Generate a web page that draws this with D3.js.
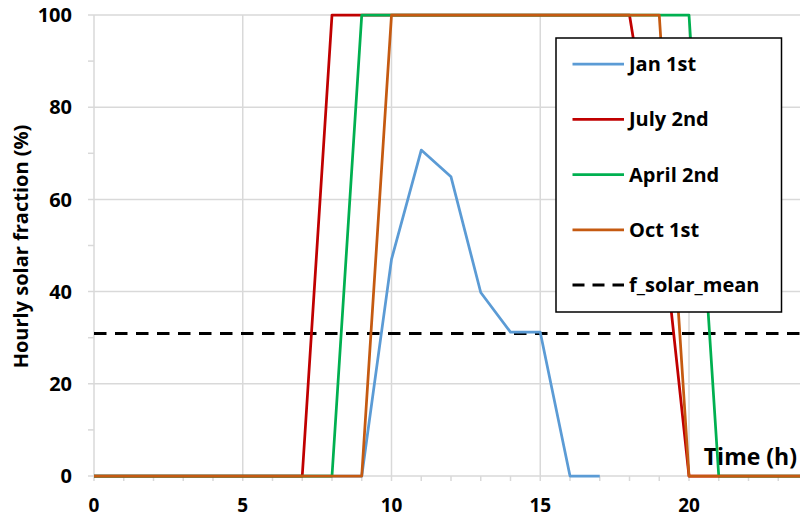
<!DOCTYPE html>
<html>
<head>
<meta charset="utf-8">
<script src="https://cdn.jsdelivr.net/npm/d3@7"></script>
<style>
  body { margin: 0; background: #fff; }
  svg { display: block; font-family: "Open Sans", sans-serif; font-weight: 700; }
</style>
</head>
<body>
<script>
// hours of the day
const hours = d3.range(0, 25);

// hourly solar fraction (%)
const jan1 = [0, 0, 0, 0, 0, 0, 0, 0, 0, 0, 47, 70.7, 64.9, 39.8, 31.2, 31.2, 0, 0];
const july2 = [0, 0, 0, 0, 0, 0, 0, 0, 100, 100, 100, 100, 100, 100, 100, 100, 100, 100, 100, 60, 0, 0, 0, 0, 0];
const april2 = [0, 0, 0, 0, 0, 0, 0, 0, 0, 100, 100, 100, 100, 100, 100, 100, 100, 100, 100, 100, 100, 0, 0, 0, 0];
const oct1 = [0, 0, 0, 0, 0, 0, 0, 0, 0, 0, 100, 100, 100, 100, 100, 100, 100, 100, 100, 100, 0, 0, 0, 0, 0];
const fSolarMean = 30.9;

const seriesNames = ['Jan 1st', 'July 2nd', 'April 2nd', 'Oct 1st'];
const seriesColors = ['#5b9bd5', '#c00000', '#00b050', '#c55a11'];
const seriesValues = [jan1, july2, april2, oct1];

const xTicks = [0, 5, 10, 15, 20];
const yTicks = [0, 20, 40, 60, 80, 100];

const width = 800, height = 517;
const margin = { top: 15, right: -8, bottom: 41, left: 94 };

const svg = d3.select('body').append('svg')
  .attr('width', width)
  .attr('height', height);

const x = d3.scaleLinear().domain([0, 24]).range([margin.left, width - margin.right]);
const y = d3.scaleLinear().domain([0, 100]).range([height - margin.bottom, margin.top]);

// gridlines
svg.append('g')
  .selectAll('line.hgrid')
  .data(yTicks)
  .join('line')
  .attr('x1', margin.left - 6)
  .attr('x2', width)
  .attr('y1', d => y(d))
  .attr('y2', d => y(d))
  .attr('stroke', '#d9d9d9')
  .attr('stroke-width', 1.5);

svg.append('g')
  .selectAll('line.vgrid')
  .data(xTicks)
  .join('line')
  .attr('x1', d => x(d))
  .attr('x2', d => x(d))
  .attr('y1', y(0))
  .attr('y2', y(100))
  .attr('stroke', '#d9d9d9')
  .attr('stroke-width', 1.5);

// minor ticks
svg.append('g')
  .selectAll('line')
  .data(d3.range(10, 100, 20))
  .join('line')
  .attr('x1', margin.left - 6)
  .attr('x2', margin.left)
  .attr('y1', d => y(d))
  .attr('y2', d => y(d))
  .attr('stroke', '#d9d9d9')
  .attr('stroke-width', 1.5);

svg.append('g')
  .selectAll('line')
  .data(hours)
  .join('line')
  .attr('x1', d => x(d))
  .attr('x2', d => x(d))
  .attr('y1', y(0))
  .attr('y2', y(0) + 5)
  .attr('stroke', '#d9d9d9')
  .attr('stroke-width', 1.5);

// tick labels
svg.append('g')
  .selectAll('text')
  .data(yTicks)
  .join('text')
  .attr('x', margin.left - 22)
  .attr('y', d => y(d))
  .attr('dy', '0.36em')
  .attr('text-anchor', 'end')
  .attr('font-size', 20)
  .text(d => d);

svg.append('g')
  .selectAll('text')
  .data(xTicks)
  .join('text')
  .attr('x', d => x(d))
  .attr('y', 512)
  .attr('text-anchor', 'middle')
  .attr('font-size', 19)
  .text(d => d);

// axis titles
svg.append('text')
  .attr('transform', `translate(28, ${(y(0) + y(100)) / 2 + 1}) rotate(-90)`)
  .attr('text-anchor', 'middle')
  .attr('font-size', 20)
  .text('Hourly solar fraction (%)');

svg.append('text')
  .attr('x', 797)
  .attr('y', 465)
  .attr('text-anchor', 'end')
  .attr('font-size', 23)
  .text('Time (h)');

// mean line
svg.append('line')
  .attr('x1', x(0))
  .attr('x2', width)
  .attr('y1', y(fSolarMean))
  .attr('y2', y(fSolarMean))
  .attr('stroke', '#000')
  .attr('stroke-width', 3)
  .attr('stroke-dasharray', '12.5,8.5');

// series lines
const line = d3.line()
  .x((d, i) => x(hours[i]))
  .y(d => y(d));

svg.append('g')
  .selectAll('path')
  .data(seriesValues)
  .join('path')
  .attr('d', d => line(d))
  .attr('fill', 'none')
  .attr('stroke', (d, i) => seriesColors[i])
  .attr('stroke-width', 2.75)
  .attr('stroke-linejoin', 'round');

// legend
const legend = svg.append('g');
legend.append('rect')
  .attr('x', 556)
  .attr('y', 38)
  .attr('width', 225.5)
  .attr('height', 274)
  .attr('fill', '#fff')
  .attr('stroke', '#000')
  .attr('stroke-width', 1.5);

const legendItems = seriesNames.concat(['f_solar_mean']);
const legendY = d3.scaleLinear().domain([0, 4]).range([64, 285]);

legend.selectAll('line')
  .data(legendItems)
  .join('line')
  .attr('x1', 572.5)
  .attr('x2', 624)
  .attr('y1', (d, i) => legendY(i))
  .attr('y2', (d, i) => legendY(i))
  .attr('stroke', (d, i) => i < 4 ? seriesColors[i] : '#000')
  .attr('stroke-width', (d, i) => i < 4 ? 2.75 : 3)
  .attr('stroke-dasharray', (d, i) => i < 4 ? null : '12,8');

legend.selectAll('text')
  .data(legendItems)
  .join('text')
  .attr('x', 629)
  .attr('y', (d, i) => legendY(i))
  .attr('dy', '0.36em')
  .attr('font-size', 20)
  .text(d => d);
</script>
</body>
</html>
